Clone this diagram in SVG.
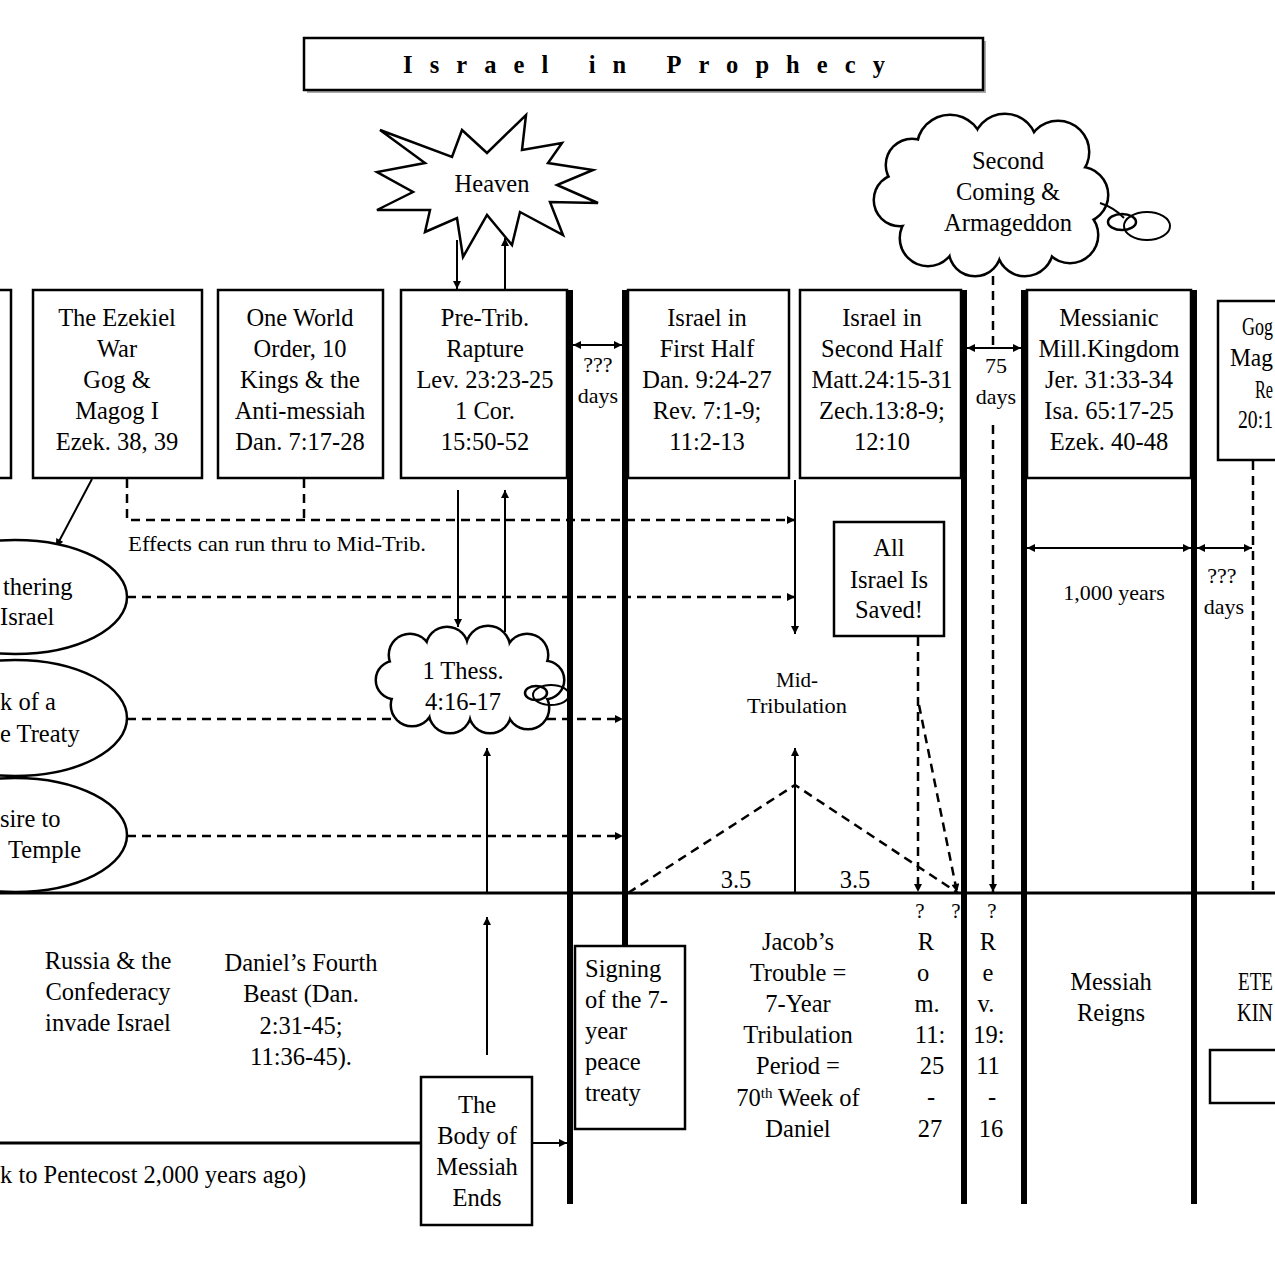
<svg xmlns="http://www.w3.org/2000/svg" xmlns:xlink="http://www.w3.org/1999/xlink" width="1275" height="1275" viewBox="0 0 1275 1275">
<style>
text { font-family: "Liberation Serif", "Times New Roman", serif; font-size: 24.5px; fill: #000; }
.c { text-anchor: middle; }
.s22 { font-size: 22px; }
.s21 { font-size: 21px; }
.box { fill: #fff; stroke: #000; stroke-width: 2.5; }
.thick { stroke: #000; stroke-width: 6; fill: none; }
.tl { stroke: #000; stroke-width: 3; fill: none; }
.ln { stroke: #000; stroke-width: 2; fill: none; }
.dash { stroke: #000; stroke-width: 2.5; stroke-dasharray: 9 6; fill: none; }
.cs { fill: #fff; stroke: #000; stroke-width: 5; }
.cf { fill: #fff; stroke: none; }
</style>
<defs>
<marker id="ah" viewBox="0 0 10 10" refX="10" refY="5" markerWidth="10" markerHeight="8" markerUnits="userSpaceOnUse" orient="auto-start-reverse">
<path d="M0,0 L10,5 L0,10 z" fill="#000"/>
</marker>
<g id="cl1">
<circle cx="950" cy="148" r="32"/><circle cx="1005" cy="146" r="31"/><circle cx="1058" cy="152" r="30"/>
<circle cx="1080" cy="195" r="27"/><circle cx="1070" cy="235" r="27"/><circle cx="1025" cy="248" r="27"/>
<circle cx="975" cy="250" r="25"/><circle cx="928" cy="238" r="27"/><circle cx="900" cy="200" r="25"/>
<circle cx="912" cy="165" r="25"/><ellipse cx="995" cy="195" rx="90" ry="60"/>
</g>
<g id="cl2">
<circle cx="410" cy="655" r="20"/><circle cx="447" cy="648" r="20"/><circle cx="488" cy="648" r="21"/>
<circle cx="527" cy="655" r="20"/><circle cx="545" cy="680" r="18"/><circle cx="528" cy="708" r="20"/>
<circle cx="490" cy="712" r="20"/><circle cx="450" cy="712" r="20"/><circle cx="412" cy="705" r="20"/>
<circle cx="395" cy="680" r="18"/><ellipse cx="468" cy="680" rx="65" ry="35"/>
</g>
</defs>
<rect width="1275" height="1275" fill="#fff"/>

<g id="title">
<rect x="307" y="41" width="679" height="52" fill="#aaa"/>
<rect class="box" x="304" y="38" width="679" height="52"/>
<text x="403" y="73" font-weight="bold" font-size="26" textLength="482" lengthAdjust="spacing">Israel in Prophecy</text>
</g>

<g id="nodes-boxes">
<g id="box-left"><rect class="box" x="-20" y="290" width="31" height="188"/></g>
<g id="box-ezekiel"><rect class="box" x="33" y="290" width="169" height="188"/>
<text class="c" x="117" y="326">The Ezekiel</text><text class="c" x="117" y="357">War</text><text class="c" x="117" y="388">Gog &amp;</text><text class="c" x="117" y="419">Magog I</text><text class="c" x="117" y="450">Ezek. 38, 39</text></g>
<g id="box-oneworld"><rect class="box" x="218" y="290" width="165" height="188"/>
<text class="c" x="300" y="326">One World</text><text class="c" x="300" y="357">Order, 10</text><text class="c" x="300" y="388">Kings &amp; the</text><text class="c" x="300" y="419">Anti-messiah</text><text class="c" x="300" y="450">Dan. 7:17-28</text></g>
<g id="box-pretrib"><rect class="box" x="401" y="290" width="166" height="188"/>
<text class="c" x="485" y="326">Pre-Trib.</text><text class="c" x="485" y="357">Rapture</text><text class="c" x="485" y="388">Lev. 23:23-25</text><text class="c" x="485" y="419">1 Cor.</text><text class="c" x="485" y="450">15:50-52</text></g>
<g id="box-firsthalf"><rect class="box" x="628" y="290" width="161" height="188"/>
<text class="c" x="707" y="326">Israel in</text><text class="c" x="707" y="357">First Half</text><text class="c" x="707" y="388">Dan. 9:24-27</text><text class="c" x="707" y="419">Rev. 7:1-9;</text><text class="c" x="707" y="450">11:2-13</text></g>
<g id="box-secondhalf"><rect class="box" x="800" y="290" width="161" height="188"/>
<text class="c" x="882" y="326">Israel in</text><text class="c" x="882" y="357">Second Half</text><text class="c" x="882" y="388">Matt.24:15-31</text><text class="c" x="882" y="419">Zech.13:8-9;</text><text class="c" x="882" y="450">12:10</text></g>
<g id="box-messianic"><rect class="box" x="1027" y="290" width="164" height="188"/>
<text class="c" x="1109" y="326">Messianic</text><text class="c" x="1109" y="357">Mill.Kingdom</text><text class="c" x="1109" y="388">Jer. 31:33-34</text><text class="c" x="1109" y="419">Isa. 65:17-25</text><text class="c" x="1109" y="450">Ezek. 40-48</text></g>
<g id="box-gog2"><rect class="box" x="1218" y="301" width="80" height="159"/>
<text x="1242" y="335" textLength="31" lengthAdjust="spacingAndGlyphs">Gog</text><text x="1230" y="366" textLength="43" lengthAdjust="spacingAndGlyphs">Mag</text><text x="1255" y="398" textLength="18" lengthAdjust="spacingAndGlyphs">Re</text><text x="1238" y="428" textLength="35" lengthAdjust="spacingAndGlyphs">20:1</text></g>
<g id="box-saved"><rect class="box" x="834" y="522" width="110" height="114"/>
<text class="c" x="889" y="556">All</text><text class="c" x="889" y="588">Israel Is</text><text class="c" x="889" y="618">Saved!</text></g>
<g id="box-signing"><rect class="box" x="575" y="946" width="110" height="183"/>
<text x="585" y="977">Signing</text><text x="585" y="1008">of the 7-</text><text x="585" y="1039">year</text><text x="585" y="1070">peace</text><text x="585" y="1101">treaty</text></g>
<g id="box-body"><rect class="box" x="421" y="1077" width="111" height="148"/>
<text class="c" x="477" y="1113">The</text><text class="c" x="477" y="1144">Body of</text><text class="c" x="477" y="1175">Messiah</text><text class="c" x="477" y="1206">Ends</text></g>
<g id="box-eternal"><rect class="box" x="1210" y="1050" width="90" height="53"/></g>
</g>

<g id="frame">
<line class="tl" x1="0" y1="893" x2="1275" y2="893"/>
<line class="thick" x1="570" y1="290" x2="570" y2="1204"/>
<line class="thick" x1="625" y1="290" x2="625" y2="946"/>
<line class="thick" x1="964" y1="290" x2="964" y2="1204"/>
<line class="thick" x1="1024" y1="290" x2="1024" y2="1204"/>
<line class="thick" x1="1194" y1="290" x2="1194" y2="1204"/>
</g>

<g id="connectors">
<line class="ln" x1="92" y1="479" x2="56" y2="547" marker-end="url(#ah)"/>
<path class="dash" d="M127,479 V520 H795" marker-end="url(#ah)"/>
<path class="dash" d="M304,479 V520"/>
<line class="dash" x1="127" y1="597" x2="795" y2="597" marker-end="url(#ah)"/>
<line class="dash" x1="127" y1="719" x2="623" y2="719" marker-end="url(#ah)"/>
<line class="dash" x1="127" y1="836" x2="623" y2="836" marker-end="url(#ah)"/>
<line class="ln" x1="457" y1="240" x2="457" y2="289" marker-end="url(#ah)"/>
<line class="ln" x1="505" y1="289" x2="505" y2="238" marker-end="url(#ah)"/>
<line class="ln" x1="458" y1="490" x2="458" y2="627" marker-end="url(#ah)"/>
<line class="ln" x1="505" y1="632" x2="505" y2="490" marker-end="url(#ah)"/>
<line class="ln" x1="487" y1="892" x2="487" y2="748" marker-end="url(#ah)"/>
<line class="ln" x1="487" y1="1055" x2="487" y2="917" marker-end="url(#ah)"/>
<line class="tl" x1="0" y1="1143" x2="421" y2="1143"/>
<line class="ln" x1="532" y1="1143" x2="567" y2="1143" stroke-width="2.5" marker-end="url(#ah)"/>
<line class="ln" x1="573" y1="345" x2="622" y2="345" stroke-width="2.5" marker-start="url(#ah)" marker-end="url(#ah)"/>
<line class="ln" x1="967" y1="348" x2="1021" y2="348" stroke-width="2.5" marker-start="url(#ah)" marker-end="url(#ah)"/>
<line class="ln" x1="795" y1="480" x2="795" y2="634" marker-end="url(#ah)"/>
<line class="ln" x1="795" y1="892" x2="795" y2="748" marker-end="url(#ah)"/>
<path class="dash" d="M628,893 L795,785 L958,893"/>
<line class="dash" x1="918" y1="637" x2="918" y2="892" marker-end="url(#ah)"/>
<line class="dash" x1="919" y1="705" x2="957" y2="892" marker-end="url(#ah)"/>
<line class="dash" x1="993" y1="276" x2="993" y2="346"/>
<line class="dash" x1="993" y1="425" x2="993" y2="892" marker-end="url(#ah)"/>
<line class="ln" x1="1027" y1="548" x2="1191" y2="548" stroke-width="2.5" marker-start="url(#ah)" marker-end="url(#ah)"/>
<line class="ln" x1="1197" y1="548" x2="1252" y2="548" stroke-width="2.5" marker-start="url(#ah)" marker-end="url(#ah)"/>
<line class="dash" x1="1253" y1="461" x2="1253" y2="893"/>
</g>

<g id="heaven">
<polygon fill="#fff" stroke="#000" stroke-width="2.5" stroke-linejoin="miter" points="380,130 452,157 462,130 487,153 526,115 522,150 562,143 548,163 593,170 557,185 598,203 550,202 563,235 520,212 512,245 487,215 463,257 457,218 425,232 430,210 377,210 413,192 377,172 425,163"/>
<text class="c" x="492" y="192">Heaven</text>
</g>

<g id="second-coming">
<use xlink:href="#cl1" class="cs"/>
<use xlink:href="#cl1" class="cf"/>
<path class="ln" d="M1100,203 Q1115,208 1124,218"/>
<ellipse cx="1147" cy="226" rx="23" ry="14" fill="none" stroke="#000" stroke-width="2"/>
<ellipse cx="1122" cy="222" rx="14" ry="8" fill="none" stroke="#000" stroke-width="2.5"/>
<text class="c" x="1008" y="169">Second</text>
<text class="c" x="1008" y="200">Coming &amp;</text>
<text class="c" x="1008" y="231">Armageddon</text>
</g>

<g id="thess">
<use xlink:href="#cl2" class="cs"/>
<use xlink:href="#cl2" class="cf"/>
<ellipse cx="551" cy="695" rx="18" ry="10" fill="none" stroke="#000" stroke-width="2"/>
<ellipse cx="536" cy="693" rx="11" ry="7" fill="none" stroke="#000" stroke-width="2.5"/>
<text class="c" x="463" y="679">1 Thess.</text>
<text class="c" x="463" y="710">4:16-17</text>
</g>

<g id="ellipse-gathering">
<ellipse class="box" cx="15" cy="597" rx="112" ry="57"/>
<text x="3" y="595">thering</text><text x="0" y="625">Israel</text>
</g>
<g id="ellipse-peace">
<ellipse class="box" cx="15" cy="718" rx="112" ry="58"/>
<text x="0" y="710">k of a</text><text x="0" y="742">e Treaty</text>
</g>
<g id="ellipse-temple">
<ellipse class="box" cx="15" cy="835" rx="112" ry="57"/>
<text x="0" y="827">sire to</text><text x="8" y="858">Temple</text>
</g>

<g id="labels">
<text class="s21" x="128" y="551" textLength="298" lengthAdjust="spacingAndGlyphs">Effects can run thru to Mid-Trib.</text>
<text class="c s22" x="598" y="372">???</text><text class="c s22" x="598" y="403">days</text>
<text class="c s22" x="996" y="373">75</text><text class="c s22" x="996" y="404">days</text>
<text class="c s22" x="1114" y="600">1,000 years</text>
<text class="c s22" x="1222" y="583">???</text><text class="c s22" x="1224" y="614">days</text>
<text class="c s21" x="797" y="687">Mid-</text><text class="c s21" x="797" y="713" textLength="100" lengthAdjust="spacingAndGlyphs">Tribulation</text>
<text class="c" x="736" y="888" font-size="24">3.5</text><text class="c" x="855" y="888" font-size="24">3.5</text>
<text class="c" x="108" y="969">Russia &amp; the</text><text class="c" x="108" y="1000">Confederacy</text><text class="c" x="108" y="1031">invade Israel</text>
<text class="c" x="301" y="971">Daniel’s Fourth</text><text class="c" x="301" y="1002">Beast (Dan.</text><text class="c" x="301" y="1034">2:31-45;</text><text class="c" x="301" y="1065">11:36-45).</text>
<text x="0" y="1183">k to Pentecost 2,000 years ago)</text>
<text class="c" x="798" y="950">Jacob’s</text><text class="c" x="798" y="981">Trouble =</text><text class="c" x="798" y="1012">7-Year</text><text class="c" x="798" y="1043">Tribulation</text><text class="c" x="798" y="1074">Period =</text>
<text class="c" x="798" y="1106">70<tspan font-size="15" dy="-8">th</tspan><tspan dy="8"> Week of</tspan></text>
<text class="c" x="798" y="1137">Daniel</text>
<text class="c s21" x="920" y="918">?</text><text class="c s21" x="956" y="918">?</text><text class="c s21" x="992" y="918">?</text>
<text class="c" x="926" y="950">R</text><text class="c" x="923" y="981">o</text><text class="c" x="927" y="1012">m.</text><text class="c" x="930" y="1043">11:</text><text class="c" x="932" y="1074">25</text><text class="c" x="931" y="1105">-</text><text class="c" x="930" y="1137">27</text>
<text class="c" x="988" y="950">R</text><text class="c" x="988" y="981">e</text><text class="c" x="986" y="1012">v.</text><text class="c" x="989" y="1043">19:</text><text class="c" x="988" y="1074">11</text><text class="c" x="992" y="1105">-</text><text class="c" x="991" y="1137">16</text>
<text class="c" x="1111" y="990">Messiah</text><text class="c" x="1111" y="1021">Reigns</text>
<text x="1238" y="990" textLength="35" lengthAdjust="spacingAndGlyphs">ETE</text><text x="1237" y="1021" textLength="36" lengthAdjust="spacingAndGlyphs">KIN</text>
</g>
</svg>
